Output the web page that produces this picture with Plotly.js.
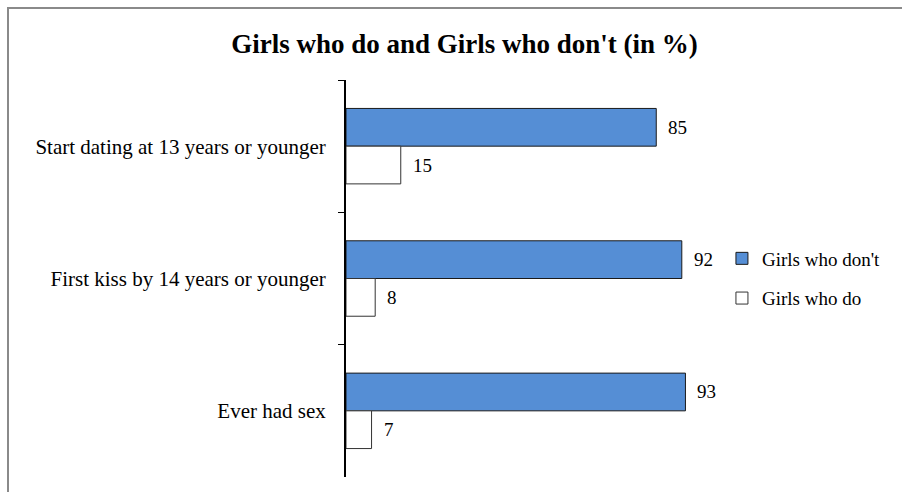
<!DOCTYPE html>
<html>
<head>
<meta charset="utf-8">
<script src="https://cdn.plot.ly/plotly-3.0.1.min.js"></script>
<style>
  html, body { margin: 0; padding: 0; background: #fff; }
  #frame { position: absolute; left: 7px; top: 7px; width: 895px; height: 485px;
           border-top: 2px solid #8a8a8a; border-left: 2px solid #8a8a8a; box-sizing: border-box; }
  #chart { position: absolute; left: 0; top: 0; width: 902px; height: 492px; }
</style>
</head>
<body>
<div id="frame"></div>
<div id="chart"></div>
<script>
const categories = ["Start dating at 13 years or younger", "First kiss by 14 years or younger", "Ever had sex"];
const girlsWhoDont = [85, 92, 93];
const girlsWhoDo = [15, 8, 7];
const seriesNames = ["Girls who don't", "Girls who do"];

const serif = "Liberation Serif";
const bargap = 0.43;
const half = (1 - bargap) / 4; // center offset of each bar within group

const traces = [
  {
    type: 'bar', orientation: 'h', name: seriesNames[0], legendgroup: 'a',
    y: categories, x: girlsWhoDont,
    marker: { color: '#558ed5', line: { color: '#1a1a1a', width: 1 } },
    hoverinfo: 'x'
  },
  {
    type: 'bar', orientation: 'h', name: seriesNames[1], legendgroup: 'b',
    y: categories, x: girlsWhoDo,
    marker: { color: '#ffffff', line: { color: '#333333', width: 1 } },
    hoverinfo: 'x'
  }
];

const annotations = [];
[girlsWhoDont, girlsWhoDo].forEach((vals, s) => {
  vals.forEach((v, i) => {
    annotations.push({
      x: v, y: i + (s === 0 ? -half : half), xref: 'x', yref: 'y',
      text: String(v), showarrow: false, xanchor: 'left', yanchor: 'middle',
      xshift: 10, font: { family: serif, size: 19, color: '#000' }
    });
  });
});

const layout = {
  width: 902, height: 492,
  paper_bgcolor: 'rgba(0,0,0,0)', plot_bgcolor: 'rgba(0,0,0,0)',
  font: { family: serif },
  margin: { l: 346, r: 191, t: 80, b: 15 },
  title: { text: "<b>Girls who do and Girls who don't (in %)</b>", x: 0.515, xanchor: 'center', y: 0.912, yanchor: 'middle',
           font: { family: serif, size: 27, color: '#000' } },
  barmode: 'group', bargap: bargap, bargroupgap: 0,
  xaxis: { range: [0, 100], visible: false, fixedrange: true },
  yaxis: { type: 'category', autorange: 'reversed', showline: true, linecolor: '#000', linewidth: 2,
           ticks: 'outside', ticklen: 6, tickcolor: '#000', tickwidth: 1, tickson: 'boundaries',
           showgrid: false, ticklabelstandoff: 14,
           tickfont: { family: serif, size: 21, color: '#000' }, fixedrange: true },
  showlegend: true,
  legend: { x: 1.03, xanchor: 'left', y: 0.5, yanchor: 'middle', traceorder: 'grouped', tracegroupgap: 12,
            font: { family: serif, size: 19, color: '#000' }, itemwidth: 30, bgcolor: 'rgba(0,0,0,0)' },
  annotations: annotations
};

Plotly.newPlot('chart', traces, layout, { displayModeBar: false, staticPlot: true });
</script>
</body>
</html>
